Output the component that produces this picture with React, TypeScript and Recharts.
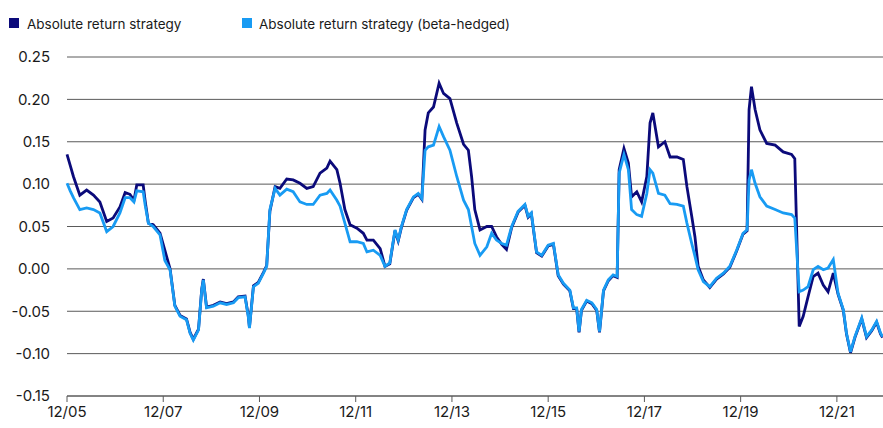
import React from "react";
import { LineChart, Line, XAxis, YAxis, CartesianGrid, Legend } from "recharts";

// months since Dec 2005
const months = [
  0, 0.8, 1.6, 3.2, 4.9, 6.6, 8.2, 9.9, 11.5, 13.2, 14.5, 15.7, 16.7, 17.4, 19.0, 19.5, 20.3, 21.5, 23.2, 24.4,
  25.7, 26.9, 28.2, 29.8, 30.7, 31.5, 32.8, 33.6, 34.0, 34.8, 36.5, 38.2, 39.8, 41.5, 42.7, 44.4, 45.2, 45.5, 46.5, 47.7,
  49.0, 49.8, 50.6, 51.9, 53.1, 54.8, 56.4, 58.1, 59.8, 61.4, 63.1, 64.8, 65.6, 67.3, 68.1, 69.3, 70.6, 72.3, 73.9, 74.8,
  76.4, 78.1, 79.3, 80.5, 81.8, 82.6, 83.4, 84.7, 86.4, 87.6, 88.5, 89.3, 90.1, 91.4, 92.8, 93.9, 95.5, 97.2, 98.9, 100.1,
  100.9, 101.7, 103.0, 104.7, 105.9, 107.1, 108.4, 109.6, 110.9, 112.5, 114.2, 115.0, 115.8, 117.1, 118.4, 120.0, 121.3, 122.5, 123.8, 125.4,
  126.3, 127.1, 127.7, 128.3, 129.6, 130.9, 132.1, 132.8, 133.8, 135.0, 136.2, 137.2, 137.7, 138.9, 140.0, 140.8, 142.1, 143.3, 144.6, 145.4,
  146.1, 147.5, 149.1, 150.4, 152.1, 153.7, 154.6, 155.8, 156.6, 157.4, 158.7, 160.3, 162.0, 163.7, 165.3, 167.0, 168.6, 169.6, 170.1, 170.7,
  171.6, 172.8, 174.5, 176.6, 178.6, 180.7, 181.5, 182.6, 183.6, 184.8, 186.1, 187.3, 188.6, 189.8, 191.1, 192.3, 193.6, 194.4, 195.4, 196.5,
  198.2, 199.4, 200.7, 201.9, 202.9, 203.4,
];

const absoluteReturn = [
  0.135, 0.122, 0.109, 0.087, 0.093, 0.087, 0.079, 0.056, 0.060, 0.073, 0.090, 0.088, 0.081, 0.099, 0.099, 0.080, 0.054, 0.052, 0.042, 0.022,
  0.000, -0.043, -0.055, -0.059, -0.075, -0.083, -0.071, -0.024, -0.012, -0.045, -0.043, -0.039, -0.041, -0.039, -0.033, -0.032, -0.055, -0.069, -0.020, -0.016,
  -0.004, 0.004, 0.068, 0.097, 0.095, 0.106, 0.105, 0.101, 0.095, 0.097, 0.113, 0.119, 0.127, 0.117, 0.101, 0.070, 0.052, 0.048, 0.042, 0.034,
  0.034, 0.024, 0.003, 0.006, 0.045, 0.033, 0.049, 0.069, 0.084, 0.088, 0.082, 0.164, 0.184, 0.191, 0.219, 0.207, 0.201, 0.172, 0.147, 0.140,
  0.109, 0.070, 0.046, 0.050, 0.050, 0.038, 0.029, 0.023, 0.049, 0.067, 0.075, 0.061, 0.065, 0.019, 0.015, 0.027, 0.029, -0.008, -0.018, -0.026,
  -0.047, -0.047, -0.075, -0.049, -0.038, -0.041, -0.049, -0.075, -0.026, -0.014, -0.008, -0.010, 0.117, 0.142, 0.125, 0.085, 0.091, 0.079, 0.109, 0.172,
  0.184, 0.144, 0.150, 0.132, 0.132, 0.129, 0.097, 0.062, 0.038, 0.003, -0.013, -0.022, -0.012, -0.006, 0.002, 0.021, 0.041, 0.045, 0.188, 0.215,
  0.188, 0.164, 0.148, 0.146, 0.138, 0.135, 0.130, -0.068, -0.056, -0.033, -0.009, -0.005, -0.019, -0.027, -0.005, -0.030, -0.049, -0.077, -0.099, -0.081,
  -0.059, -0.081, -0.073, -0.063, -0.077, -0.081,
];

const betaHedged = [
  0.101, 0.092, 0.084, 0.070, 0.072, 0.070, 0.066, 0.044, 0.050, 0.066, 0.084, 0.084, 0.079, 0.092, 0.091, 0.075, 0.054, 0.050, 0.040, 0.010,
  -0.001, -0.044, -0.056, -0.060, -0.076, -0.084, -0.072, -0.025, -0.013, -0.046, -0.044, -0.040, -0.042, -0.040, -0.034, -0.033, -0.056, -0.070, -0.021, -0.017,
  -0.005, 0.003, 0.070, 0.095, 0.087, 0.094, 0.091, 0.079, 0.076, 0.076, 0.087, 0.089, 0.093, 0.081, 0.074, 0.054, 0.032, 0.032, 0.030, 0.020,
  0.022, 0.016, 0.003, 0.007, 0.046, 0.034, 0.050, 0.070, 0.085, 0.089, 0.083, 0.140, 0.144, 0.146, 0.168, 0.156, 0.140, 0.109, 0.081, 0.070,
  0.050, 0.030, 0.016, 0.026, 0.042, 0.034, 0.030, 0.028, 0.050, 0.068, 0.076, 0.062, 0.066, 0.020, 0.016, 0.028, 0.030, -0.007, -0.017, -0.025,
  -0.046, -0.046, -0.074, -0.048, -0.037, -0.040, -0.048, -0.074, -0.025, -0.013, -0.007, -0.009, 0.113, 0.135, 0.117, 0.070, 0.064, 0.062, 0.089, 0.117,
  0.113, 0.089, 0.087, 0.077, 0.076, 0.074, 0.054, 0.030, 0.015, -0.001, -0.015, -0.021, -0.011, -0.005, 0.003, 0.022, 0.042, 0.046, 0.105, 0.117,
  0.101, 0.085, 0.074, 0.070, 0.066, 0.064, 0.060, -0.027, -0.025, -0.021, -0.001, 0.003, -0.001, 0.001, 0.011, -0.029, -0.048, -0.076, -0.098, -0.080,
  -0.058, -0.080, -0.072, -0.062, -0.076, -0.080,
];

const xTickMonths = [0, 24, 48, 72, 96, 120, 144, 168, 192];
const xTickLabels = ["12/05", "12/07", "12/09", "12/11", "12/13", "12/15", "12/17", "12/19", "12/21"];
const yTicks = [-0.15, -0.1, -0.05, 0, 0.05, 0.1, 0.15, 0.2, 0.25];
const yTickLabels = ["-0.15", "-0.10", "-0.05", "0.00", "0.05", "0.10", "0.15", "0.20", "0.25"];

const seriesNames = ["Absolute return strategy", "Absolute return strategy (beta-hedged)"];
const DARK = "#0b0a7a";
const LIGHT = "#189bf3";
const FONT = "Inter, 'Noto Sans', sans-serif";

const data = months.map((m, i) => ({ m, a: absoluteReturn[i], b: betaHedged[i] }));

const renderLegend = () => (
  <div style={{ position: "relative", width: 883, height: 40, fontFamily: FONT, fontSize: 13.5, color: "#1a1a1a" }}>
    <div style={{ position: "absolute", left: 9, top: 18, width: 10, height: 10, background: DARK }} />
    <div style={{ position: "absolute", left: 27, top: 15, lineHeight: "18px", whiteSpace: "nowrap" }}>{seriesNames[0]}</div>
    <div style={{ position: "absolute", left: 242, top: 18, width: 10, height: 10, background: LIGHT }} />
    <div style={{ position: "absolute", left: 259, top: 15, lineHeight: "18px", whiteSpace: "nowrap" }}>{seriesNames[1]}</div>
  </div>
);

export default function App() {
  return (
    <div style={{ position: "absolute", left: 0, top: 0, width: 883, height: 428, background: "#fff" }}>
      <LineChart width={883} height={428} data={data} margin={{ top: 57, right: 0, bottom: 0, left: 0 }}>
        <CartesianGrid vertical={false} stroke="#5a5a5a" strokeWidth={1} />
        <XAxis
          dataKey="m"
          type="number"
          domain={[0, 203.5]}
          ticks={xTickMonths}
          tickFormatter={(v: number) => xTickLabels[xTickMonths.indexOf(v)]}
          height={32}
          axisLine={{ stroke: "#5a5a5a" }}
          tickLine={{ stroke: "#5a5a5a" }}
          tickSize={6}
          tickMargin={4}
          tick={{ fill: "#1a1a1a", fontSize: 15, fontFamily: FONT }}
          interval={0}
        />
        <YAxis
          type="number"
          domain={[-0.15, 0.25]}
          ticks={yTicks}
          tickFormatter={(v: number) => yTickLabels[yTicks.findIndex((t) => Math.abs(t - v) < 1e-9)]}
          width={67}
          axisLine={false}
          tickLine={false}
          tickSize={0}
          tickMargin={17}
          tick={{ fill: "#1a1a1a", fontSize: 15, fontFamily: FONT }}
          interval={0}
        />
        <Legend layout="vertical" align="center" verticalAlign="middle" wrapperStyle={{ top: 0, left: 0, width: 883 }} content={renderLegend} />
        <Line type="linear" dataKey="a" name={seriesNames[0]} stroke={DARK} strokeWidth={2.8} dot={false} isAnimationActive={false} />
        <Line type="linear" dataKey="b" name={seriesNames[1]} stroke={LIGHT} strokeWidth={2.8} dot={false} isAnimationActive={false} />
      </LineChart>
    </div>
  );
}
